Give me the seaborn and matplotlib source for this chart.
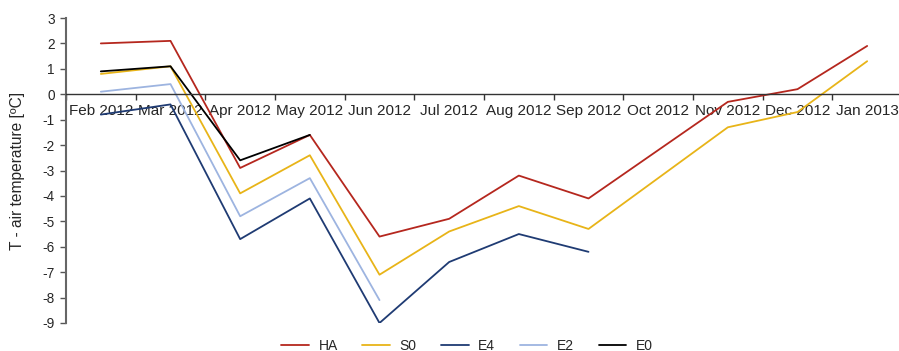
import numpy as np
import pandas as pd
import matplotlib
matplotlib.use("Agg")
import matplotlib.pyplot as plt
import seaborn as sns

# Monthly air temperature differences (°C) per treatment
months = ["Feb 2012", "Mar 2012", "Apr 2012", "May 2012", "Jun 2012", "Jul 2012",
          "Aug 2012", "Sep 2012", "Oct 2012", "Nov 2012", "Dec 2012", "Jan 2013"]
ha = [2.0, 2.1, -2.9, -1.6, -5.6, -4.9, -3.2, -4.1, None, -0.3, 0.2, 1.9]
s0 = [0.8, 1.1, -3.9, -2.4, -7.1, -5.4, -4.4, -5.3, None, -1.3, -0.7, 1.3]
e4 = [-0.8, -0.4, -5.7, -4.1, -9.0, -6.6, -5.5, -6.2, None, None, None, None]
e2 = [0.1, 0.4, -4.8, -3.3, -8.1, None, None, None, None, None, None, None]
e0 = [0.9, 1.1, -2.6, -1.6, None, None, None, None, None, None, None, None]

series = {"HA": ha, "S0": s0, "E4": e4, "E2": e2, "E0": e0}
colors = {"HA": "#B5271E", "S0": "#E8B418", "E4": "#1F3B73",
          "E2": "#9DB4E0", "E0": "#000000"}

rows = []
for name, vals in series.items():
    for i, v in enumerate(vals):
        if v is not None:
            rows.append({"pos": i, "month": months[i], "series": name, "value": v})
df = pd.DataFrame(rows)

sns.set_theme(style="white")
plt.rcParams["font.family"] = ["Liberation Sans", "DejaVu Sans"]

fig = plt.figure(figsize=(8.99, 3.51), dpi=100)
ax = fig.add_axes([66 / 899, 28 / 351, 836 / 899, 305 / 351])

sns.lineplot(data=df, x="pos", y="value", hue="series", palette=colors,
             hue_order=list(series.keys()), linewidth=1.3, sort=True,
             estimator=None, ax=ax, legend=True)

ax.set_xlim(-0.5, 11.5)
ax.set_ylim(-9, 3)
ax.set_yticks(np.arange(-9, 4, 1))
ax.set_yticklabels([str(v) for v in range(-9, 4)], fontsize=9.8)

# Category labels centred under each month, tick marks at the boundaries
ax.set_xticks(np.arange(len(months)))
ax.set_xticklabels(months, fontsize=9.4)
ax.set_xticks(np.arange(len(months) + 1) - 0.5, minor=True)
ax.tick_params(axis="x", which="major", length=0, pad=7)
ax.tick_params(axis="x", which="minor", length=4, width=1.0, color="#333333",
               direction="out", bottom=True)
ax.tick_params(axis="y", length=4, width=1.0, color="#555555", direction="out",
               left=True, pad=4)

for side in ["top", "right"]:
    ax.spines[side].set_visible(False)
ax.spines["bottom"].set_position(("data", 0))
ax.spines["bottom"].set_color("#333333")
ax.spines["bottom"].set_linewidth(1.0)
ax.spines["left"].set_color("#666666")
ax.spines["left"].set_linewidth(1.5)

ax.set_xlabel("")
ax.set_ylabel("T - air temperature [ºC]", fontsize=11.2, labelpad=13)

handles, labels = ax.get_legend_handles_labels()
ax.get_legend().remove()
fig.legend(handles, labels, loc="lower center", bbox_to_anchor=(467 / 899, -0.04),
           ncol=5, frameon=False, fontsize=10, handlelength=2.0,
           columnspacing=1.75, handletextpad=0.7)

fig.savefig("out.png", dpi=100)
